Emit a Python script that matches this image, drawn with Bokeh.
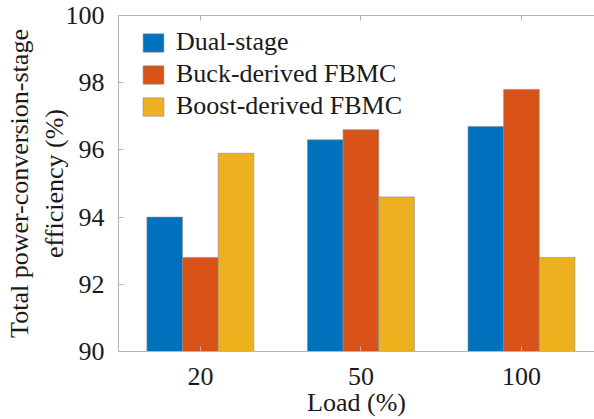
from bokeh.plotting import figure
from bokeh.models import FixedTicker, LinearAxis, Range1d, ColumnDataSource
from bokeh.transform import dodge
from bokeh.embed import file_html
from bokeh.resources import INLINE

loads = ["20", "50", "100"]
dual_stage = [94.0, 96.3, 96.7]
buck_fbmc = [92.8, 96.6, 97.8]
boost_fbmc = [95.9, 94.6, 92.8]
series_names = ["Dual-stage", "Buck-derived FBMC", "Boost-derived FBMC"]
colors = ["#0072BD", "#D95319", "#EDB120"]
y_ticks = [90, 92, 94, 96, 98, 100]

FONT = "Liberation Serif"
TXT = "#1a1a1a"
AX = "#b4b4b4"

xs = list(range(1, len(loads) + 1))
src = ColumnDataSource(dict(x=xs, dual=dual_stage, buck=buck_fbmc, boost=boost_fbmc))

p = figure(width=594, height=419, output_backend="svg", toolbar_location=None,
           x_range=Range1d(0.49, 3.455), y_range=Range1d(90, 100),
           min_border_left=118, min_border_right=0, min_border_top=15, min_border_bottom=10)
p.outline_line_color = None
p.xgrid.visible = False
p.ygrid.visible = False

w = 0.222
for key, name, col, off in zip(["dual", "buck", "boost"], series_names, colors, [-w, 0, w]):
    p.vbar(x=dodge("x", off), top=key, bottom=90, width=w, source=src,
           fill_color=col, line_color="#8a8a8a", line_width=0.6, legend_label=name)

p.xaxis.ticker = FixedTicker(ticks=xs)
p.xaxis.major_label_overrides = {x: l for x, l in zip(xs, loads)}
p.yaxis.ticker = FixedTicker(ticks=y_ticks)

for ax in (p.xaxis[0], p.yaxis[0]):
    ax.axis_line_color = AX
    ax.major_tick_line_color = AX
    ax.major_tick_in = 5
    ax.major_tick_out = 0
    ax.minor_tick_line_color = None
    ax.major_label_text_font = FONT
    ax.major_label_text_font_size = "26px"
    ax.major_label_text_color = TXT
    ax.axis_label_text_font = FONT
    ax.axis_label_text_font_size = "26px"
    ax.axis_label_text_font_style = "normal"
    ax.axis_label_text_color = TXT

p.xaxis.axis_label = "Load (%)"
p.xaxis.major_label_standoff = 16
p.xaxis.axis_label_standoff = 0
p.yaxis.axis_label = "Total power-conversion-stage\nefficiency (%)"
p.yaxis.major_label_standoff = 14
p.yaxis.axis_label_standoff = -6

top = LinearAxis(ticker=FixedTicker(ticks=xs), axis_line_color=AX, major_tick_line_color=AX,
                 major_tick_in=5, major_tick_out=0, minor_tick_line_color=None,
                 major_label_overrides={x: "" for x in xs},
                 major_label_text_font=FONT, major_label_text_font_size="1px",
                 major_label_standoff=0)
p.add_layout(top, "above")

lg = p.legend[0]
lg.location = (22, 230)
lg.border_line_color = None
lg.background_fill_alpha = 0
lg.label_text_font = FONT
lg.label_text_font_size = "26px"
lg.label_text_color = TXT
lg.glyph_width = 26
lg.glyph_height = 23
lg.label_standoff = 10
lg.spacing = 2
lg.margin = 0
lg.padding = 10

open("out.html", "w").write(file_html(p, INLINE))
